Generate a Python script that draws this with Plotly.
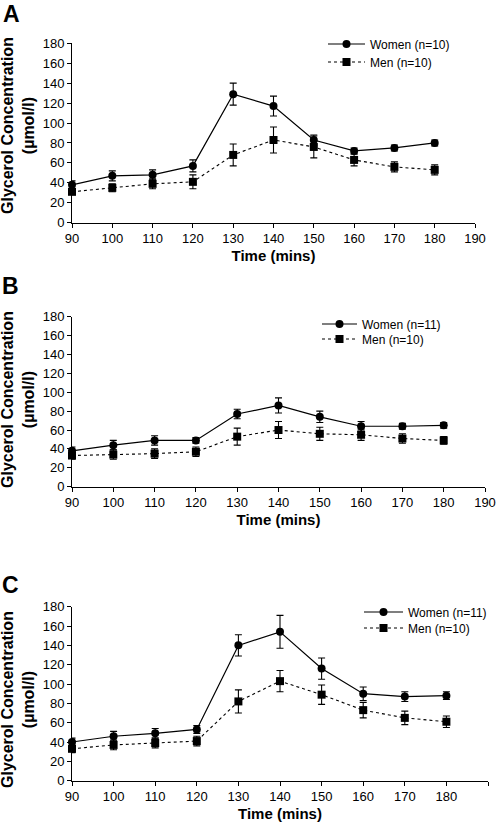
import plotly.graph_objects as go

W, H = 498, 824
OFF = 0  # body margin is removed by the post_script below

times = [90, 100, 110, 120, 130, 140, 150, 160, 170, 180]
x_ticks = [90, 100, 110, 120, 130, 140, 150, 160, 170, 180, 190]
y_ticks = [0, 20, 40, 60, 80, 100, 120, 140, 160, 180]

A_women = [38, 47, 48, 57, 129, 117, 83, 72, 75, 80]
A_women_err = [4, 5, 5, 6, 11, 10, 5, 3, 3, 3]
A_men = [31, 35, 39, 41, 68, 83, 76, 63, 56, 53]
A_men_err = [3, 4, 5, 7, 11, 13, 11, 6, 5, 5]

B_women = [38, 44, 49, 49, 77, 86, 74, 64, 64, 65]
B_women_err = [4, 5, 5, 3, 5, 8, 6, 5, 3, 3]
B_men = [33, 34, 35, 37, 53, 60, 56, 55, 51, 49]
B_men_err = [4, 5, 5, 5, 9, 9, 7, 6, 5, 4]

C_women = [40, 46, 49, 53, 140, 154, 116, 90, 87, 88]
C_women_err = [4, 5, 5, 4, 11, 17, 11, 7, 5, 4]
C_men = [33, 37, 39, 41, 82, 103, 89, 73, 65, 61]
C_men_err = [4, 5, 5, 5, 12, 11, 10, 8, 7, 6]

panel_letters = ["A", "B", "C"]
women_labels = ["Women (n=10)", "Women (n=11)", "Women (n=11)"]
men_labels = ["Men (n=10)", "Men (n=10)", "Men (n=10)"]

# screen-pixel layout of each panel: (left, right, top, bottom)
panels_px = [(72, 475, 43.3, 222.7), (72, 485, 316.7, 486.7), (72, 488, 606.7, 780.7)]
# legend: line start x, women row y, men row y, item width
legend_px = [(328, 44, 62, 37), (322, 324, 339, 35), (364, 612, 628, 39)]
letter_px = [(11, 14), (10, 286), (10, 585)]
ytitle_cy = [126, 400, 700]

data = [
    (A_women, A_women_err, A_men, A_men_err),
    (B_women, B_women_err, B_men, B_men_err),
    (C_women, C_women_err, C_men, C_men_err),
]

FONT = "Liberation Sans, Arial, sans-serif"


def px_x(v):
    return (v - OFF) / W


def px_y(v):
    return 1 - (v - OFF) / H


fig = go.Figure()
layout = dict(
    width=W, height=H,
    margin=dict(l=0, r=0, t=0, b=0, autoexpand=False),
    paper_bgcolor="white", plot_bgcolor="white",
    font=dict(family=FONT, size=12, color="black"),
    showlegend=True,
    annotations=[],
)

leg_idx = 0
for i, (wv, we, mv, me) in enumerate(data):
    n = i + 1
    xa = "x" if n == 1 else f"x{n}"
    ya = "y" if n == 1 else f"y{n}"
    lgw = "legend" if leg_idx == 0 else f"legend{leg_idx + 1}"
    lgm = f"legend{leg_idx + 2}"
    leg_idx += 2
    fig.add_trace(go.Scatter(
        x=times, y=wv, xaxis=xa, yaxis=ya, legend=lgw, name=women_labels[i],
        mode="lines+markers", showlegend=True,
        line=dict(color="black", width=1.2),
        marker=dict(symbol="circle", size=8, color="black"),
        error_y=dict(type="data", array=we, color="black", thickness=1.1, width=3.5),
        cliponaxis=False,
    ))
    fig.add_trace(go.Scatter(
        x=times, y=mv, xaxis=xa, yaxis=ya, legend=lgm, name=men_labels[i],
        mode="lines+markers", showlegend=True,
        line=dict(color="black", width=1.1, dash="dot"),
        marker=dict(symbol="square", size=8, color="black"),
        error_y=dict(type="data", array=me, color="black", thickness=1.1, width=3.5),
        cliponaxis=False,
    ))
    l, r, t, b = panels_px[i]
    xkey = "xaxis" if n == 1 else f"xaxis{n}"
    ykey = "yaxis" if n == 1 else f"yaxis{n}"
    layout[xkey] = dict(
        domain=[px_x(l), px_x(r)], anchor=ya, range=[90, 190], automargin=False,
        tickvals=x_ticks, ticks="outside", ticklen=4, tickwidth=1, tickcolor="black",
        showline=True, linecolor="black", linewidth=1, showgrid=False, zeroline=False,
        tickfont=dict(size=13),
        title=dict(text="<b>Time (mins)</b>", font=dict(size=15), standoff=5),
    )
    layout[ykey] = dict(
        domain=[px_y(b), px_y(t)], anchor=xa, range=[0, 180], automargin=False,
        tickvals=y_ticks, ticks="outside", ticklen=4, tickwidth=1, tickcolor="black",
        showline=True, linecolor="black", linewidth=1, showgrid=False, zeroline=False,
        tickfont=dict(size=13),
    )
    lx, wy, my, iw = legend_px[i]
    for key, yy in ((lgw, wy), (lgm, my)):
        layout[key] = dict(
            x=px_x(lx - 5), y=px_y(yy), xanchor="left", yanchor="middle",
            bgcolor="rgba(0,0,0,0)", font=dict(size=12),
            itemwidth=iw, visible=True,
        )
    layout["annotations"].append(dict(
        text="<b>Glycerol Concentration</b><br><b>(µmol/l)</b>",
        xref="paper", yref="paper", x=px_x(18), y=px_y(ytitle_cy[i]),
        xanchor="center", yanchor="middle", textangle=-90, showarrow=False,
        font=dict(size=16), align="center",
    ))
    cx, cy = letter_px[i]
    layout["annotations"].append(dict(
        text=f"<b>{panel_letters[i]}</b>", xref="paper", yref="paper",
        x=px_x(cx), y=px_y(cy), xanchor="center", yanchor="middle",
        showarrow=False, font=dict(size=23),
    ))

fig.update_layout(**layout)
fig.write_html(
    "out.html",
    config={"displayModeBar": False},
    post_script="document.body.style.margin='0';document.body.style.overflow='hidden';",
)
